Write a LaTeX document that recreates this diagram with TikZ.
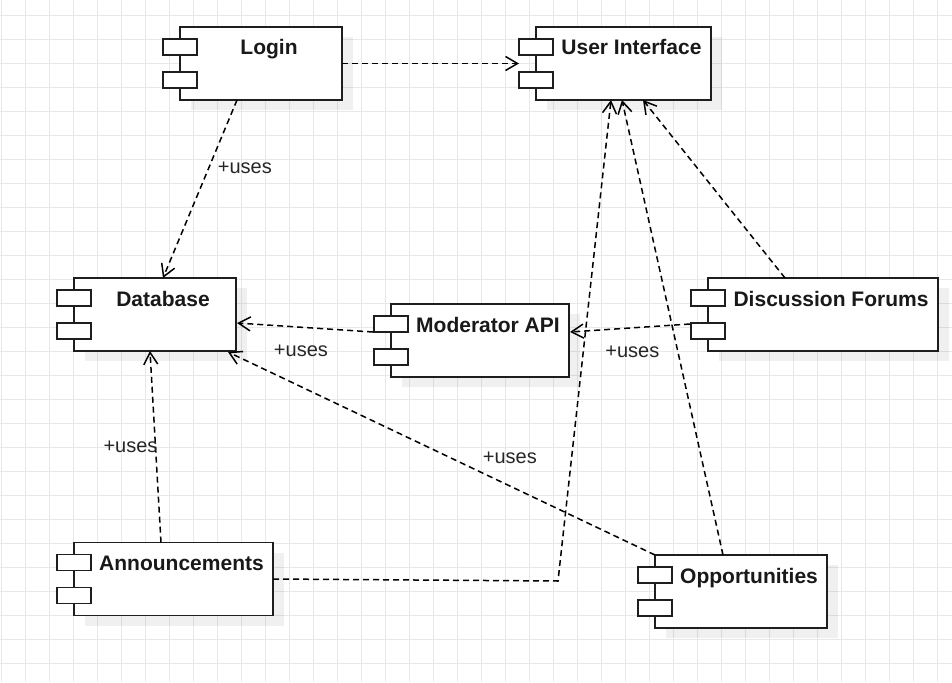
\documentclass[tikz,border=0pt]{standalone}
\usepackage{fontspec}
\setmainfont{Liberation Sans}
\usepackage{tikz}
\usetikzlibrary{arrows.meta,calc,shadows}
\definecolor{gridgray}{HTML}{E8E8E8}
\definecolor{boxline}{HTML}{1E1E1E}
\definecolor{labelgray}{HTML}{262626}

\begin{document}
\begin{tikzpicture}[x=1pt,y=-1pt,
	component/.style={draw=boxline,line width=1.8pt,fill=white,rectangle,outer sep=0pt,
		minimum height=73pt,inner xsep=4pt,inner ysep=13pt,text height=15pt,text depth=32pt,
		font=\fontsize{21}{25}\selectfont\bfseries,text=black!90,
		execute at begin node={\hspace*{16pt}},
		general shadow={shadow xshift=11pt,shadow yshift=-10pt,fill=black,opacity=0.06}},
	tab/.style={draw=boxline,line width=1.8pt,fill=white},
	gridline/.style={draw=gridgray,line width=0.8pt},
	uses/.style={font=\fontsize{20}{24}\selectfont,text=labelgray,inner sep=1pt},
	depends/.style={draw=black,line width=1.5pt,dash pattern=on 6pt off 4pt,
		-{Straight Barb[length=12pt,width=14pt]}}]
	\useasboundingbox (0,0) rectangle (952,682);
	\fill[white] (0,0) rectangle (952,682);
	% background grid
	\foreach \gx in {1,25,...,937} \draw[gridline] (\gx,0) -- (\gx,682);
	\foreach \gy in {15,39,...,663} \draw[gridline] (0,\gy) -- (952,\gy);
	% components
	\node[component,minimum width=162pt] (login) at (261,63.5) {Login};
	\node[component,minimum width=175pt] (ui) at (623.5,63.5) {User Interface};
	\node[component,minimum width=162pt] (db) at (155,314.5) {Database};
	\node[component,minimum width=178pt] (modapi) at (480,340.5) {Moderator API};
	\node[component,minimum width=230pt] (forums) at (823,314.5) {Discussion Forums};
	\node[component,minimum width=199pt] (ann) at (173.5,579) {Announcements};
	\node[component,minimum width=172pt] (opp) at (741,591.5) {Opportunities};
	\foreach \c in {login,ui,db,modapi,forums,ann,opp}{
		\draw[tab] ($(\c.north west)+(-17,12)$) rectangle ++(34,16);
		\draw[tab] ($(\c.north west)+(-17,45)$) rectangle ++(34,16);
	}
	% dependencies
	\coordinate (bend) at (558,581);
	\draw[depends] (login.east) -- ($(ui.west)+(-17,0)$);
	\draw[depends] ($(login.south)+(-24,0)$) -- node[uses,pos=0.38,xshift=36pt]{+uses} ($(db.north)+(8,0)$);
	\draw[depends] ($(modapi.west)+(-18,-8.5)$) -- node[uses,pos=0.53,yshift=-24pt]{+uses} ($(db.east)+(1,8.5)$);
	\draw[depends] ($(forums.west)+(-18,9.5)$) -- node[uses,pos=0.48,yshift=-24pt]{+uses} ($(modapi.east)+(1,-8.5)$);
	\draw[depends] ($(forums.north)+(-38,0)$) -- ($(ui.south)+(19.5,0)$);
	\draw[depends] ($(opp.north)+(-18,0)$) -- ($(ui.south)+(-1.5,0)$);
	\draw[depends] (ann.east) -- (bend) -- ($(ui.south)+(-12.5,0)$);
	\draw[depends] ($(ann.north)+(-12.5,0)$) -- node[uses,pos=0.5,xshift=-25pt]{+uses} ($(db.south)+(-5,0)$);
	\draw[depends] (opp.north west) -- node[uses,pos=0.34,yshift=28pt]{+uses} ($(db.south east)+(-8,1)$);
\end{tikzpicture}
\end{document}
